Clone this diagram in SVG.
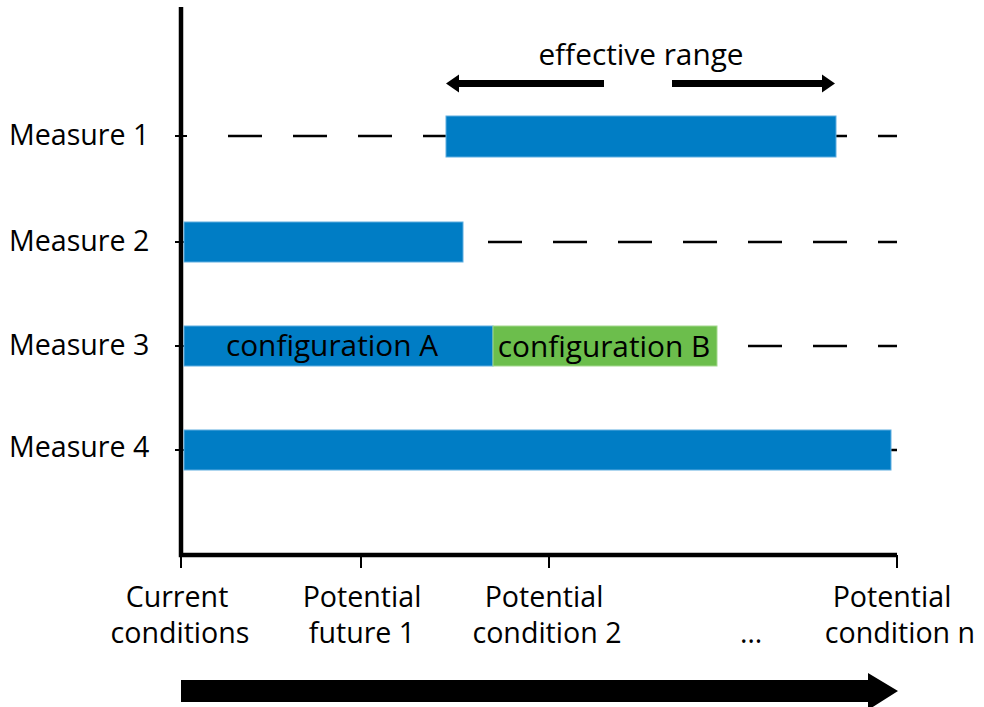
<svg xmlns="http://www.w3.org/2000/svg" width="984" height="707" viewBox="0 0 984 707">
<style>
text{font-family:"Open Sans","Noto Sans","Liberation Sans",sans-serif;font-size:28.6px;fill:#000}
.big{font-size:29.8px}
.bar{fill:#007DC5;stroke:#5FAEE0;stroke-width:1}
.barg{fill:#6CBE4C;stroke:#A4D88E;stroke-width:1}
.dash{stroke:#000;stroke-width:2.5;stroke-dasharray:34 31;fill:none}
.tick{stroke:#000;stroke-width:2}
.axis{stroke:#000;stroke-width:4.5;fill:none}
.mid{text-anchor:middle}
</style>
<rect width="984" height="707" fill="#fff"/>
<g id="connectors">
<line class="dash" x1="228" y1="136" x2="897" y2="136"/>
<line class="dash" x1="228" y1="242" x2="897" y2="242"/>
<line class="dash" x1="228" y1="346" x2="897" y2="346"/>
<line class="dash" x1="228" y1="450" x2="897" y2="450"/>
<line class="tick" x1="175" y1="136" x2="187" y2="136"/>
<line class="tick" x1="175" y1="242" x2="187" y2="242"/>
<line class="tick" x1="175" y1="346" x2="187" y2="346"/>
<line class="tick" x1="175" y1="450" x2="187" y2="450"/>
</g>
<g id="axes">
<path class="axis" d="M181,7 V555 H897"/>
<line class="tick" x1="181" y1="555" x2="181" y2="568"/>
<line class="tick" x1="361" y1="555" x2="361" y2="568"/>
<line class="tick" x1="549" y1="555" x2="549" y2="568"/>
<line class="tick" x1="897" y1="555" x2="897" y2="568"/>
</g>
<g id="labels-rows">
<text x="9" y="145">Measure 1</text>
<text x="9" y="251">Measure 2</text>
<text x="9" y="355">Measure 3</text>
<text x="9" y="457">Measure 4</text>
</g>
<g id="measure1">
<rect class="bar" x="446" y="116" width="390" height="41"/>
</g>
<g id="measure2">
<rect class="bar" x="184" y="222" width="279" height="40"/>
</g>
<g id="measure3">
<rect class="bar" x="184" y="326" width="309" height="40"/>
<rect class="barg" x="493" y="326" width="224" height="40"/>
<text class="mid big" x="332" y="356">configuration A</text>
<text class="mid big" x="604" y="357">configuration B</text>
</g>
<g id="measure4">
<rect class="bar" x="184" y="430" width="707" height="40"/>
</g>
<g id="effective-range">
<text class="mid big" x="641" y="65">effective range</text>
<polygon points="446,83.5 459,74.5 459,80 604,80 604,87 459,87 459,92.5" fill="#000"/>
<polygon points="835,83.5 822,74.5 822,80 672,80 672,87 822,87 822,92.5" fill="#000"/>
</g>
<g id="x-labels">
<text class="mid" x="177" y="607">Current</text>
<text class="mid" x="180" y="643">conditions</text>
<text class="mid" x="362" y="607">Potential</text>
<text class="mid" x="362" y="643">future 1</text>
<text class="mid" x="544" y="607">Potential</text>
<text class="mid" x="547" y="643">condition 2</text>
<text class="mid" x="751" y="643">…</text>
<text class="mid" x="892" y="607">Potential</text>
<text class="mid" x="900" y="643">condition n</text>
</g>
<g id="time-arrow">
<polygon points="181,680 868,680 868,673 898,691 868,710 868,702 181,702" fill="#000"/>
</g>
</svg>
